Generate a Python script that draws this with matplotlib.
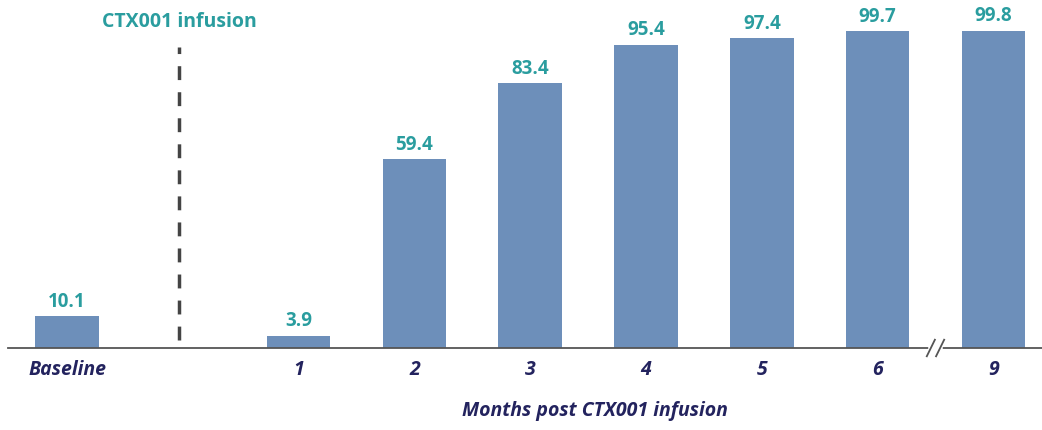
import matplotlib
matplotlib.use("Agg")
import matplotlib.pyplot as plt

plt.rcParams["font.family"] = ["Open Sans", "DejaVu Sans"]

categories = ["Baseline", "1", "2", "3", "4", "5", "6", "9"]
positions = [0, 2, 3, 4, 5, 6, 7, 8]
values = [10.1, 3.9, 59.4, 83.4, 95.4, 97.4, 99.7, 99.8]

bar_color = "#6d8fba"
teal = "#2a9d9f"
navy = "#23235e"

fig = plt.figure(figsize=(10.42, 4.3), dpi=100)
ax = fig.add_axes([0.0077, 0.1907, 0.9923, 0.8093])

ax.bar(positions, values, width=0.55, color=bar_color, zorder=2)

for x, v in zip(positions, values):
    ax.text(x, v + 1.3, f"{v:.1f}", ha="center", va="bottom",
            color=teal, fontsize=13.5, fontweight="bold")

# infusion marker
ax.plot([0.97, 0.97], [2.5, 94.5], color="#444444", lw=2.5,
        linestyle=(0, (4, 3.5)), zorder=3)
ax.text(0.97, 102.5, "CTX001 infusion", ha="center", va="center",
        color=teal, fontsize=14, fontweight="bold")

ax.set_xlim(-0.51, 8.42)
ax.set_ylim(0, 109.4)
ax.set_xticks(positions)
ax.set_xticklabels(categories, fontsize=14, fontweight="bold",
                   fontstyle="italic", color=navy)
ax.tick_params(axis="x", length=0, pad=9)
ax.set_yticks([])
for s in ["top", "right", "left"]:
    ax.spines[s].set_visible(False)
ax.spines["bottom"].set_color("#555555")
ax.spines["bottom"].set_linewidth(1.3)

# axis break marks between 6 and 9
bx = 7.5
ax.plot([bx - 0.04, bx + 0.04], [0, 0], color="white", lw=4, zorder=4,
        clip_on=False)
for dx in (-0.04, 0.04):
    ax.plot([bx + dx - 0.035, bx + dx + 0.035], [-2.6, 2.6], color="#555555",
            lw=1.3, zorder=5, clip_on=False)

ax.set_xlabel("Months post CTX001 infusion", fontsize=14,
              fontweight="bold", fontstyle="italic", color=navy)
ax.xaxis.set_label_coords(0.568, -0.152)

fig.savefig("out.png", dpi=100)
